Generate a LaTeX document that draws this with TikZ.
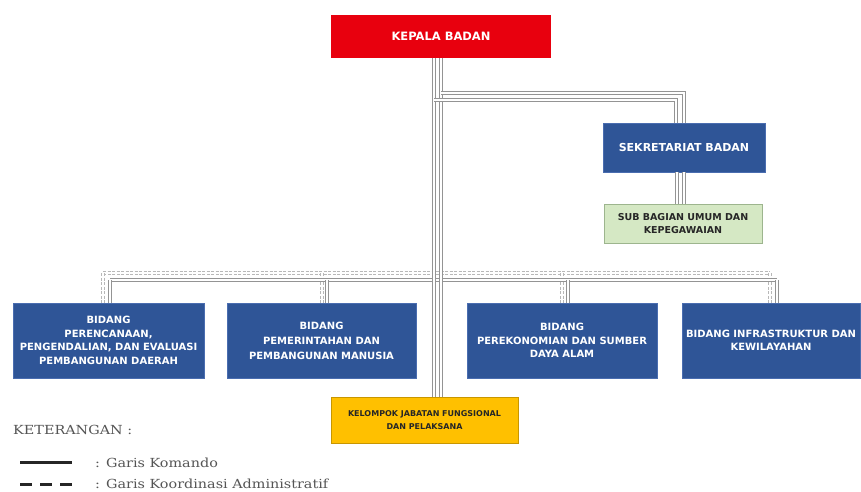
\documentclass[tikz,border=0pt]{standalone}
\usepackage{fontspec}
\newfontfamily\boxfont{DejaVu Sans}
\newfontfamily\legfont{DejaVu Serif}[FakeStretch=1.15]
\usetikzlibrary{calc}
\definecolor{kred}{HTML}{E8000E}
\definecolor{kblue}{HTML}{2F5597}
\definecolor{kblueb}{HTML}{4A6DB0}
\definecolor{kgreen}{HTML}{D5E8C4}
\definecolor{kgreenb}{HTML}{9DB58E}
\definecolor{kyellow}{HTML}{FFC000}
\definecolor{kyellowb}{HTML}{C89600}
\definecolor{legtext}{HTML}{555555}
\tikzset{
  box/.style={rectangle, inner sep=0pt, align=center, line width=0.6pt},
  redbox/.style={box, fill=kred, text=white, font=\boxfont\bfseries\fontsize{11.5}{13}\selectfont},
  bluebox/.style={box, fill=kblue, draw=kblueb, text=white, font=\boxfont\bfseries\fontsize{10}{13.5}\selectfont},
  greenbox/.style={box, fill=kgreen, draw=kgreenb, text=black!85, font=\boxfont\bfseries\fontsize{9.5}{13}\selectfont},
  yellowbox/.style={box, fill=kyellow, draw=kyellowb, text=black!85, font=\boxfont\bfseries\fontsize{8}{13}\selectfont},
  cmd/.style={draw=black!42, line width=1pt, double=white, double distance=1.6pt},
  crd/.style={draw=black!28, line width=1pt, double=white, double distance=1.6pt, dash pattern=on 3pt off 1.5pt},
  legtxt/.style={anchor=west, inner sep=0pt, text=legtext, font=\legfont\fontsize{12.5}{14}\selectfont},
}
\begin{document}
\begin{tikzpicture}[x=1pt,y=-1pt]
\useasboundingbox (0,0) rectangle (861,491);
\fill[white] (0,0) rectangle (861,491);

% boxes
\node[redbox, minimum width=220pt, minimum height=43pt] (kepala) at (441,36.5) {KEPALA BADAN};
\node[bluebox, font=\boxfont\bfseries\fontsize{11}{13}\selectfont, minimum width=162pt, minimum height=49pt] (sek) at (684,147.5) {SEKRETARIAT BADAN};
\node[greenbox, minimum width=158pt, minimum height=39pt] (sub) at (683,223.5) {SUB BAGIAN UMUM DAN\\KEPEGAWAIAN};
\node[bluebox, minimum width=191pt, minimum height=75pt] (b1) at (108.5,340.5) {BIDANG\\PERENCANAAN,\\PENGENDALIAN, DAN EVALUASI\\PEMBANGUNAN DAERAH};
\node[bluebox, font=\boxfont\bfseries\fontsize{10}{15}\selectfont, minimum width=189pt, minimum height=75pt] (b2) at (321.5,340.5) {BIDANG\\PEMERINTAHAN DAN\\PEMBANGUNAN MANUSIA};
\node[bluebox, minimum width=190pt, minimum height=75pt] (b3) at (562,340.5) {BIDANG\\PEREKONOMIAN DAN SUMBER\\DAYA ALAM};
\node[bluebox, minimum width=178pt, minimum height=75pt] (b4) at (771,340.5) {BIDANG INFRASTRUKTUR DAN\\KEWILAYAHAN};
\node[yellowbox, minimum width=187pt, minimum height=46pt] (kel) at (424.5,420) {KELOMPOK JABATAN FUNGSIONAL\\DAN PELAKSANA};

% junction coordinates
\coordinate (jA) at (441,93);
\coordinate (jB) at (434,100);
\coordinate (busC) at (0,280);
\coordinate (busD) at (0,273);

% coordination bus (upper, dashed)
\draw[crd] ([xshift=-5.5pt]b1.north |- busD) -- ([xshift=-1pt]b4.north |- busD);
\draw[crd] ([xshift=-5.5pt]b1.north |- busD) -- ([xshift=-5.5pt]b1.north);
\draw[crd] ([xshift=0.5pt]b2.north |- busD) -- ([xshift=0.5pt]b2.north);
\draw[crd] ([xshift=0pt]b3.north |- busD) -- ([xshift=0pt]b3.north);
\draw[crd] ([xshift=-1pt]b4.north |- busD) -- ([xshift=-1pt]b4.north);

% command bus (lower)
\draw[cmd] ([xshift=1.5pt]b1.north |- busC) -- ([xshift=6pt]b4.north |- busC);
\draw[cmd] ([xshift=1.5pt]b1.north |- busC) -- ([xshift=1.5pt]b1.north);
\draw[cmd] ([xshift=5.5pt]b2.north |- busC) -- ([xshift=5.5pt]b2.north);
\draw[cmd] ([xshift=6pt]b3.north |- busC) -- ([xshift=6pt]b3.north);
\draw[cmd] ([xshift=6pt]b4.north |- busC) -- ([xshift=6pt]b4.north);

% main verticals
\draw[cmd] ([xshift=-7pt]kepala.south) -- ([xshift=-7pt]kepala.south |- kel.north);
\draw[cmd] (kepala.south) -- (kepala.south |- kel.north);

% to sekretariat
\draw[cmd] (jA) -| (sek.north);
\draw[cmd] (jB) -| ([xshift=-8pt]sek.north);

% sekretariat to sub
\draw[cmd] (sek.south) -- (sek.south |- sub.north);
\draw[cmd] ([xshift=-7pt]sek.south) -- ([xshift=-7pt]sek.south |- sub.north);

% legend
\node[legtxt] (ket) at (13,430) {KETERANGAN :};
\coordinate (l1a) at (20,462);
\coordinate (l1b) at (72,462);
\coordinate (l2a) at (20,484);
\coordinate (l2b) at (72,484);
\draw[line width=3pt, black!85] (l1a) -- (l1b);
\draw[line width=3pt, black!85, dash pattern=on 12pt off 8pt] (l2a) -- (l2b);
\node[legtxt] (k1) at (95,463) {: Garis Komando};
\node[legtxt] (k2) at (95,484) {: Garis Koordinasi Administratif};
\end{tikzpicture}
\end{document}
